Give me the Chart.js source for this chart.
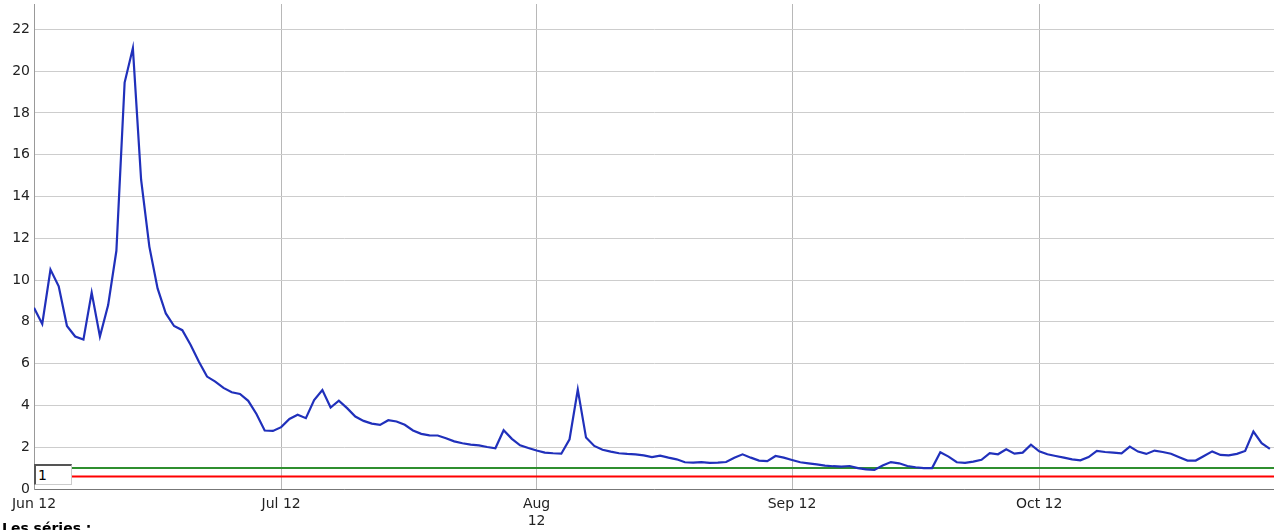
<!DOCTYPE html>
<html>
<head>
<meta charset="utf-8">
<script src="https://cdn.jsdelivr.net/npm/chart.js@4/dist/chart.umd.min.js"></script>
<style>
  body { margin: 0; background: #fff; }
  #wrap { position: relative; width: 1274px; height: 530px; overflow: hidden; }
  #chart-box { position: absolute; left: 0; top: 0; width: 1274px; height: 530px; }
  #roller {
    position: absolute; left: 34px; top: 464px; width: 33px; height: 18px;
    padding: 0 0 0 2px; margin: 0;
    font: 14px "DejaVu Sans", sans-serif; color: #000; background: #fff;
    border-top: 2px solid #555; border-left: 2px solid #555;
    border-right: 1px solid #ccc; border-bottom: 1px solid #ccc;
  }
  #series-title {
    position: absolute; left: 2px; top: 520px;
    font: bold 14px "DejaVu Sans", sans-serif; color: #000;
  }
</style>
</head>
<body>
<div id="wrap">
  <div id="chart-box"><canvas id="chart1"></canvas></div>
  <input id="roller" type="text" value="1">
  <div id="series-title">Les séries :</div>
</div>
<script>
'use strict'

// one value per day, starting Jun 12
const dailyValues = [
	8.67, 7.9, 10.5, 9.7, 7.8, 7.3, 7.15, 9.4, 7.3, 8.8,
	11.4, 19.45, 21.1, 14.8, 11.6, 9.6, 8.4, 7.8, 7.6, 6.9,
	6.1, 5.38, 5.14, 4.84, 4.63, 4.55, 4.22, 3.59, 2.8, 2.78,
	2.96, 3.35, 3.55, 3.39, 4.26, 4.74, 3.9, 4.23, 3.87, 3.47,
	3.26, 3.13, 3.07, 3.29, 3.23, 3.07, 2.8, 2.64, 2.57, 2.56,
	2.43, 2.28, 2.19, 2.12, 2.09, 2.01, 1.95, 2.81, 2.4, 2.09,
	1.96, 1.84, 1.74, 1.71, 1.69, 2.38, 4.76, 2.46, 2.06, 1.88,
	1.79, 1.71, 1.68, 1.66, 1.61, 1.53, 1.6, 1.5, 1.42, 1.28,
	1.26, 1.29, 1.25, 1.26, 1.29, 1.5, 1.66, 1.5, 1.36, 1.33,
	1.58, 1.5, 1.39, 1.28, 1.23, 1.18, 1.12, 1.09, 1.07, 1.1,
	1.0, 0.94, 0.91, 1.12, 1.29, 1.23, 1.1, 1.04, 1.0, 1.0,
	1.76, 1.55, 1.28, 1.25, 1.31, 1.4, 1.72, 1.66, 1.9, 1.69,
	1.74, 2.12, 1.8, 1.66, 1.58, 1.5, 1.42, 1.37, 1.53, 1.82,
	1.77, 1.74, 1.71, 2.03, 1.79, 1.68, 1.84, 1.77, 1.69, 1.52,
	1.36, 1.36, 1.58, 1.8, 1.63, 1.61, 1.68, 1.82, 2.75, 2.19,
	1.92
]

// two fixed levels
const upperLevel = [1.0]
const lowerLevel = [0.6]

// month ticks (days since Jun 12)
const tickDays = [0, 30, 61, 92, 122]
const tickLabels = ['Jun 12', 'Jul 12', ['Aug', '12'], 'Sep 12', 'Oct 12']

const xEnd = 150.5
const yTop = Math.max(...dailyValues) * 1.1

const FONT = { family: '"DejaVu Sans", sans-serif', size: 14 }

const levelLine = function(level, color) {
	return {
		data: [{ x: 0, y: level }, { x: xEnd, y: level }],
		borderColor: color,
		borderWidth: 2,
		pointRadius: 0,
		tension: 0
	}
}

const ctx = document.getElementById('chart1').getContext('2d')
const chart = new Chart(ctx, {
	type: 'line',
	data: {
		datasets: [
			{
				data: dailyValues.map((v, i) => ({ x: i, y: v })),
				borderColor: '#2030bb',
				borderWidth: 2.2,
				pointRadius: 0,
				tension: 0
			},
			levelLine(upperLevel[0], '#2f8f2f'),
			levelLine(lowerLevel[0], '#ff0000')
		]
	},
	options: {
		responsive: true,
		maintainAspectRatio: false,
		animation: false,
		layout: { padding: { top: 4, right: 0, left: 0, bottom: 0 } },
		plugins: {
			legend: { display: false },
			tooltip: { enabled: false }
		},
		scales: {
			x: {
				type: 'linear',
				min: 0,
				max: xEnd,
				afterBuildTicks: (scale) => {
					scale.ticks = tickDays.map(d => ({ value: d }))
				},
				afterFit: (scale) => {
					scale.height = 41
					scale.paddingLeft = 0
					scale.paddingRight = 0
				},
				ticks: {
					autoSkip: false,
					maxRotation: 0,
					padding: 7,
					color: '#222',
					font: FONT,
					callback: (value) => tickLabels[tickDays.indexOf(value)]
				},
				grid: { color: '#b8b8b8', lineWidth: 1, drawTicks: false },
				border: { color: '#777', width: 1 }
			},
			y: {
				min: 0,
				max: yTop,
				afterFit: (scale) => {
					scale.width = 34
					scale.paddingTop = 0
					scale.paddingBottom = 0
				},
				ticks: {
					stepSize: 2,
					includeBounds: false,
					padding: 4,
					color: '#222',
					font: FONT
				},
				grid: { color: '#cdcdcd', lineWidth: 1, drawTicks: false },
				border: { color: '#999', width: 1 }
			}
		}
	}
})
</script>
</body>
</html>
